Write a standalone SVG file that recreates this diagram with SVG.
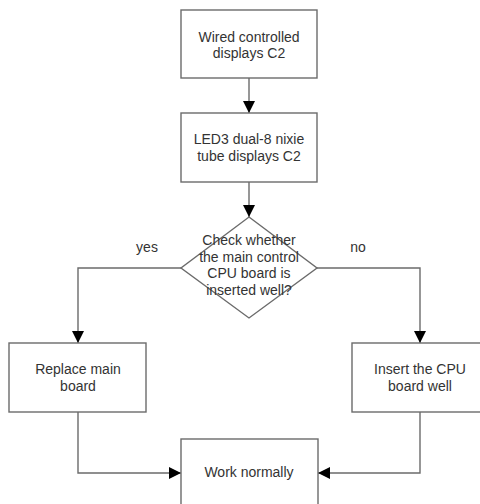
<svg xmlns="http://www.w3.org/2000/svg" width="480" height="504" viewBox="0 0 480 504">
<defs>
<style>
.box{fill:#fff;stroke:#6b6b6b;stroke-width:1.4}
.t{font-family:"Liberation Sans",Arial,sans-serif;font-size:14px;fill:#333;text-anchor:middle}
.c{fill:none;stroke:#6b6b6b;stroke-width:1.4}
</style>
<marker id="ah" markerUnits="userSpaceOnUse" markerWidth="12" markerHeight="12" viewBox="0 0 12 12" refX="12" refY="6" orient="auto">
<path d="M0,0 L12,6 L0,12 Z" fill="#000"/>
</marker>
</defs>
<rect width="480" height="504" fill="#fff"/>
<g id="connectors">
<path class="c" d="M249,78 V113" marker-end="url(#ah)"/>
<path class="c" d="M249,182 V217" marker-end="url(#ah)"/>
<path class="c" d="M181,268 H78 V343" marker-end="url(#ah)"/>
<path class="c" d="M317,268 H420 V343" marker-end="url(#ah)"/>
<path class="c" d="M78,412 V473 H181" marker-end="url(#ah)"/>
<path class="c" d="M420,412 V473 H318" marker-end="url(#ah)"/>
<text class="t" x="147" y="252">yes</text>
<text class="t" x="358" y="252">no</text>
</g>
<g id="n1">
<rect class="box" x="181" y="10" width="136" height="68"/>
<text class="t" x="249" y="42">Wired controlled</text>
<text class="t" x="249" y="58">displays C2</text>
</g>
<g id="n2">
<rect class="box" x="181" y="113" width="136" height="69"/>
<text class="t" x="249" y="144">LED3 dual-8 nixie</text>
<text class="t" x="249" y="161">tube displays C2</text>
</g>
<g id="n3">
<polygon class="box" points="249,217 317,268 249,318 181,268"/>
<text class="t" x="249" y="245">Check whether</text>
<text class="t" x="249" y="261.5">the main control</text>
<text class="t" x="249" y="278">CPU board is</text>
<text class="t" x="249" y="294.5">inserted well?</text>
</g>
<g id="n4">
<rect class="box" x="9" y="343" width="137" height="69"/>
<text class="t" x="78" y="374">Replace main</text>
<text class="t" x="78" y="390.5">board</text>
</g>
<g id="n5">
<rect class="box" x="352" y="343" width="137" height="69"/>
<text class="t" x="420" y="374">Insert the CPU</text>
<text class="t" x="420" y="390.5">board well</text>
</g>
<g id="n6">
<rect class="box" x="181" y="439" width="137" height="67"/>
<text class="t" x="249" y="477">Work normally</text>
</g>
</svg>
